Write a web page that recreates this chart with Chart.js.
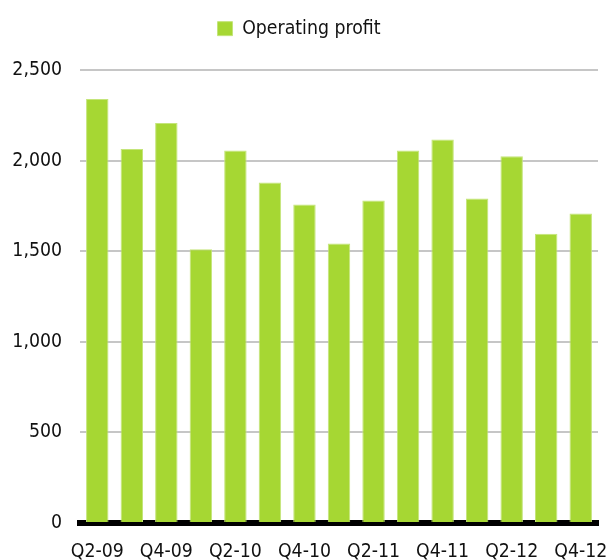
<!DOCTYPE html>
<html>
<head>
<meta charset="utf-8">
<script src="https://cdn.jsdelivr.net/npm/chart.js@4/dist/chart.umd.min.js"></script>
<style>
  html, body { margin: 0; padding: 0; background: #fff; }
  #wrap { width: 610px; height: 560px; }
</style>
</head>
<body>
<div id="wrap"><canvas id="c" width="610" height="560"></canvas></div>
<script>
const categories = ["Q2-09","Q3-09","Q4-09","Q1-10","Q2-10","Q3-10","Q4-10","Q1-11","Q2-11","Q3-11","Q4-11","Q1-12","Q2-12","Q3-12","Q4-12"];
const operatingProfit = [2342, 2066, 2209, 1512, 2057, 1880, 1759, 1544, 1781, 2057, 2118, 1792, 2025, 1597, 1709];
const yTicks = [0, 500, 1000, 1500, 2000, 2500];

const FONT = "'Liberation Sans Narrow', 'DejaVu Sans Condensed', sans-serif";
const FSIZE = 19.3;
Chart.defaults.font.family = FONT;
Chart.defaults.color = "#111";

const legendSpace = {
  id: 'legendSpace',
  beforeLayout(chart) {
    const lg = chart.legend;
    if (lg && !lg._patched) {
      const orig = lg.fit.bind(lg);
      lg.fit = function() { orig(); this.height += 22; };
      lg._patched = true;
    }
  }
};

new Chart(document.getElementById('c'), {
  type: 'bar',
  data: {
    labels: categories,
    datasets: [{
      label: 'Operating profit',
      data: operatingProfit,
      backgroundColor: '#a6d733',
      borderColor: '#c4e57a',
      borderWidth: 1,
      categoryPercentage: 1.0,
      barPercentage: 0.65
    }]
  },
  plugins: [legendSpace],
  options: {
    responsive: false,
    animation: false,
    devicePixelRatio: 1,
    layout: { padding: { left: 0, right: 12, top: 0, bottom: 0 } },
    plugins: {
      legend: {
        display: true,
        position: 'top',
        labels: {
          boxWidth: 15,
          boxHeight: 14,
          padding: 19,
          font: { size: FSIZE, family: FONT },
          color: '#111'
        }
      },
      tooltip: { enabled: false }
    },
    scales: {
      x: {
        grid: { display: false },
        border: { display: true, color: '#000', width: 6 },
        afterFit: function(axis) { axis.height = 37; axis.paddingLeft = 0; axis.paddingRight = 0; },
        ticks: {
          autoSkip: false,
          maxRotation: 0,
          minRotation: 0,
          padding: 9,
          font: { size: FSIZE, family: FONT },
          color: '#111',
          callback: function(v, i) { return i % 2 === 0 ? categories[i] : ''; }
        }
      },
      y: {
        min: 0,
        max: 2500,
        afterFit: function(axis) { axis.width = 80; axis.paddingTop = 0; axis.paddingBottom = 0; },
        afterBuildTicks: function(axis) { axis.ticks = yTicks.map(v => ({ value: v })); },
        grid: {
          color: function(ctx) { return ctx.tick && ctx.tick.value === 0 ? 'rgba(0,0,0,0)' : '#c6c6c6'; },
          lineWidth: 2,
          drawTicks: false
        },
        border: { display: false },
        ticks: {
          padding: 18,
          font: { size: FSIZE, family: FONT },
          color: '#111',
          callback: function(v) { return v.toLocaleString('en-US'); }
        }
      }
    }
  }
});
</script>
</body>
</html>
